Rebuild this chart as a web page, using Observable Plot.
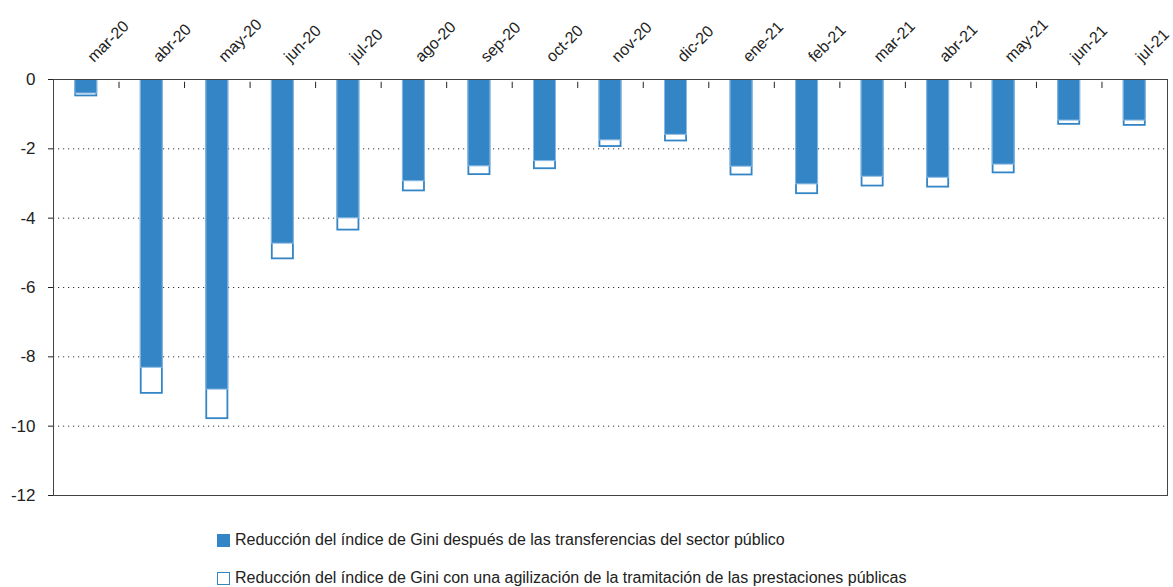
<!DOCTYPE html>
<html>
<head>
<meta charset="utf-8">
<script src="https://cdn.jsdelivr.net/npm/d3@7"></script>
<script src="https://cdn.jsdelivr.net/npm/@observablehq/plot@0.6"></script>
<style>
  html, body { margin: 0; padding: 0; background: #fff; }
  body { width: 1173px; height: 587px; overflow: hidden; position: relative; font-family: "Liberation Sans", Arial, sans-serif; }
  #legend { position: absolute; left: 217px; top: 530px; font-size: 16px; color: #222; }
  .row { display: flex; align-items: center; height: 20px; white-space: nowrap; }
  .row + .row { margin-top: 18px; }
  .sw { width: 13px; height: 13px; box-sizing: border-box; margin-right: 5px; flex: none; }
</style>
</head>
<body>
<div id="chart"></div>
<div id="legend"></div>
<script>
const months = ["mar-20","abr-20","may-20","jun-20","jul-20","ago-20","sep-20","oct-20","nov-20","dic-20","ene-21","feb-21","mar-21","abr-21","may-21","jun-21","jul-21"];
const afterTransfers = [-0.42,-8.33,-8.96,-4.75,-4.02,-2.95,-2.52,-2.37,-1.77,-1.61,-2.53,-3.04,-2.82,-2.85,-2.47,-1.2,-1.2];
const withAgilization = [-0.5,-9.08,-9.81,-5.2,-4.37,-3.24,-2.77,-2.6,-1.96,-1.8,-2.78,-3.32,-3.1,-3.13,-2.72,-1.32,-1.35];
const yTicks = [0,-2,-4,-6,-8,-10,-12];
const seriesNames = [
  "Reducción del índice de Gini después de las transferencias del sector público",
  "Reducción del índice de Gini con una agilización de la tramitación de las prestaciones públicas"
];

const blue = "#3385c6";
const data = months.map((m, i) => ({i, month: m, a: afterTransfers[i], t: withAgilization[i]}));
const half = 0.175;
const boundaries = d3.range(months.length - 1).map(i => i + 0.5);

const chart = Plot.plot({
  width: 1173,
  height: 515,
  marginTop: 79,
  marginBottom: 20,
  marginLeft: 53,
  marginRight: 6,
  style: {fontFamily: "'Liberation Sans', Arial, sans-serif", fontSize: "17px", color: "#222", background: "#fff"},
  x: {type: "linear", domain: [-0.5, months.length - 0.5]},
  y: {domain: [-12, 0]},
  marks: [
    Plot.ruleY(yTicks.filter(v => v !== 0 && v !== -12), {stroke: "#333", strokeDasharray: "1.2,3.8", strokeWidth: 1}),
    Plot.rect(data, {x1: d => d.i - half, x2: d => d.i + half, y1: 0, y2: "t", fill: "white", stroke: blue, strokeWidth: 1.8, inset: 0.9}),
    Plot.rect(data, {x1: d => d.i - half, x2: d => d.i + half, y1: 0, y2: "a", fill: blue, stroke: "#8dbbe3", strokeWidth: 1, inset: 0.5}),
    Plot.ruleX(boundaries, {x: d => d, y1: -0.08, y2: -0.26, stroke: "#222", strokeWidth: 1}),
    Plot.frame({stroke: "#444", strokeWidth: 1}),
    Plot.axisX({anchor: "top", ticks: d3.range(months.length), tickFormat: i => months[i], tickSize: 0, tickPadding: 20, dx: 4, tickRotate: -45, fontSize: 16, label: null}),
    Plot.axisY({anchor: "left", ticks: yTicks, tickFormat: d => d === 0 ? "0" : "-" + Math.abs(d), tickSize: 5, tickPadding: 13, label: null})
  ]
});
document.getElementById("chart").appendChild(chart);

const legend = document.getElementById("legend");
seriesNames.forEach((name, k) => {
  const row = document.createElement("div");
  row.className = "row";
  const sw = document.createElement("span");
  sw.className = "sw";
  if (k === 0) { sw.style.background = blue; }
  else { sw.style.background = "#fff"; sw.style.border = "1.6px solid " + blue; }
  const tx = document.createElement("span");
  tx.textContent = name;
  row.appendChild(sw);
  row.appendChild(tx);
  legend.appendChild(row);
});
</script>
</body>
</html>
